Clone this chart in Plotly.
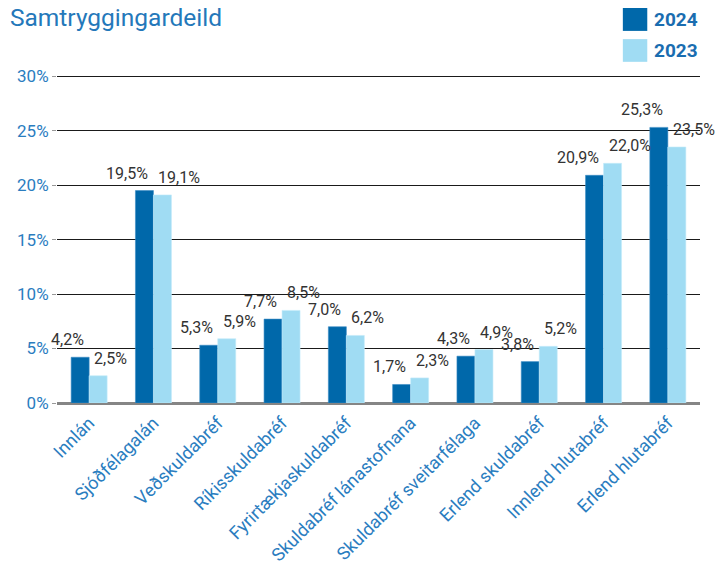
import plotly.graph_objects as go

# categories and values (%)
categories = ["Innlán", "Sjóðfélagalán", "Veðskuldabréf", "Ríkisskuldabréf",
              "Fyrirtækjaskuldabréf", "Skuldabréf lánastofnana",
              "Skuldabréf sveitarfélaga", "Erlend skuldabréf",
              "Innlend hlutabréf", "Erlend hlutabréf"]
values_2024 = [4.2, 19.5, 5.3, 7.7, 7.0, 1.7, 4.3, 3.8, 20.9, 25.3]
values_2023 = [2.5, 19.1, 5.9, 8.5, 6.2, 2.3, 4.9, 5.2, 22.0, 23.5]
tick_vals = [0, 5, 10, 15, 20, 25, 30]
tick_text = ["0%", "5%", "10%", "15%", "20%", "25%", "30%"]

darkBlue = "#0068aa"
lightBlue = "#a0dcf3"
axisBlue = "#2a7dbf"
fontFamily = "Roboto"

# the page body adds an 8px margin, so the figure is 8px smaller than the window
W, H = 719, 556

def fmt(v):
    return f"{v:.1f}".replace(".", ",") + "%"

fig = go.Figure()
fig.add_trace(go.Bar(x=categories, y=values_2024, name="2024",
                     marker=dict(color=darkBlue, line=dict(color="#3b8cc4", width=0.6))))
fig.add_trace(go.Bar(x=categories, y=values_2023, name="2023",
                     marker=dict(color=lightBlue, line=dict(color="#c4ebfa", width=0.6))))

# value labels: 2024 to the left of the group centre, 2023 to the right
for cat, v in zip(categories, values_2024):
    fig.add_annotation(x=cat, y=v, text=fmt(v), showarrow=False, yanchor="bottom",
                       xanchor="right", xshift=-3, yshift=6,
                       font=dict(size=16, color="#333333", family=fontFamily))
for cat, v in zip(categories, values_2023):
    fig.add_annotation(x=cat, y=v, text=fmt(v), showarrow=False, yanchor="bottom",
                       xanchor="left", xshift=3, yshift=6,
                       font=dict(size=16, color="#333333", family=fontFamily))

# hand-drawn legend in the top right corner
fig.add_shape(type="rect", xref="paper", yref="paper", x0=0.880, x1=0.918, y0=1.131, y1=1.201,
              fillcolor=darkBlue, line=dict(width=0))
fig.add_shape(type="rect", xref="paper", yref="paper", x0=0.880, x1=0.918, y0=1.037, y1=1.106,
              fillcolor=lightBlue, line=dict(width=0))
fig.add_annotation(xref="paper", yref="paper", x=0.925, y=1.166, text="<b>2024</b>", showarrow=False,
                   xanchor="left", yanchor="middle", font=dict(size=19, color="#1a6db0", family=fontFamily))
fig.add_annotation(xref="paper", yref="paper", x=0.925, y=1.072, text="<b>2023</b>", showarrow=False,
                   xanchor="left", yanchor="middle", font=dict(size=19, color="#1a6db0", family=fontFamily))

fig.update_layout(
    width=W, height=H,
    margin=dict(l=49, r=27, t=66, b=161),
    paper_bgcolor="white", plot_bgcolor="white",
    barmode="group", bargap=0.44, bargroupgap=0,
    showlegend=False,
    font=dict(family=fontFamily),
    title=dict(text="Samtryggingardeild", xref="container", yref="container",
               x=2/W, y=1-9/H, xanchor="left", yanchor="middle",
               font=dict(size=24.5, color="#2478ba", family=fontFamily)),
    xaxis=dict(range=[-0.5, len(categories) - 0.5], tickangle=-45,
               tickfont=dict(size=18, color=axisBlue), showgrid=False,
               showline=False, ticks="", automargin=False, ticklabelstandoff=5),
    yaxis=dict(range=[0, 30.2], tickvals=tick_vals, ticktext=tick_text,
               tickfont=dict(size=17, color=axisBlue),
               showgrid=True, gridcolor="#1a1a1a", gridwidth=1,
               zeroline=True, zerolinecolor="#858585", zerolinewidth=2.5,
               ticks="outside", ticklen=4, tickcolor="#999999", showline=False,
               automargin=False),
)

fig.write_html("out.html")
